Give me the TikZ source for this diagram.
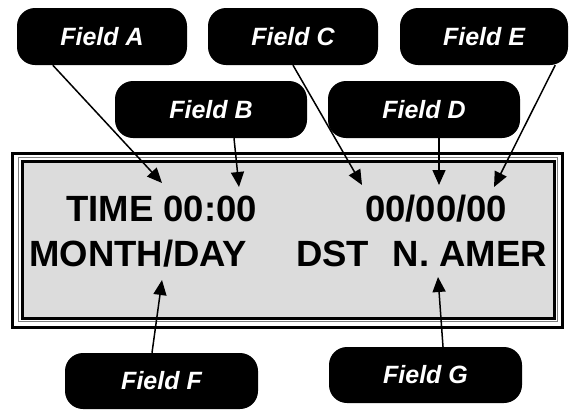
\documentclass[tikz,border=0pt]{standalone}
\usepackage{fontspec}
\usepackage{tikz}
\usetikzlibrary{arrows.meta, positioning}
\newfontfamily\arialfont{Liberation Sans}
\definecolor{lcdgray}{RGB}{220,220,220}
\tikzstyle{field}  = [rectangle, rounded corners=18pt, fill=black, text=white, inner sep=0pt,
                      minimum height=57pt, font=\arialfont\bfseries\itshape\fontsize{25}{30}\selectfont]
\tikzstyle{lcd}    = [inner sep=0pt, font=\arialfont\bfseries\fontsize{36.5}{40}\selectfont]
\tikzstyle{arrow}  = [-{Triangle[length=15pt, width=13pt]}, line width=1.5pt]

\begin{document}
\begin{tikzpicture}[x=1pt, y=-1pt]
    \useasboundingbox (0,0) rectangle (572,410);

    % display frame
    \draw[line width=3pt] (12,153) rectangle (562,327);
    \draw[gray, line width=1pt] (18.5,157.5) rectangle (557.5,321.5);
    \draw[line width=3pt, fill=lcdgray] (22,161) rectangle (554,318);

    % display texts
    \node (time)   [lcd, anchor=base west] at (66,221)  {TIME 00:00};
    \node (date)   [lcd, anchor=base west] at (365,221) {00/00/00};
    \node (month)  [lcd, anchor=base west] at (29,266)  {MONTH/DAY};
    \node (dst)    [lcd, anchor=base west] at (296,266) {DST};
    \node (region) [lcd, anchor=base east] at (547,266) {N. AMER};

    % field labels
    \node (fa) [field, minimum width=170pt] at (102,36.5)  {Field A};
    \node (fb) [field, minimum width=192pt] at (211,109.5) {Field B};
    \node (fc) [field, minimum width=170pt] at (293,36.5)  {Field C};
    \node (fd) [field, minimum width=192pt] at (424,109.5) {Field D};
    \node (fe) [field, minimum width=168pt] at (484,36.5)  {Field E};
    \node (ff) [field, minimum width=193pt, minimum height=56pt] at (161.5,381) {Field F};
    \node (fg) [field, minimum width=193pt, minimum height=56pt] at (425.5,375) {Field G};

    % arrow tips on the display
    \coordinate (tipA) at (162,183);
    \coordinate (tipB) at (239,187);
    \coordinate (tipC) at (362,185);
    \coordinate (tipD) at (439,185);
    \coordinate (tipE) at (494,187);
    \coordinate (tipF) at (162,280);
    \coordinate (tipG) at (438,277);

    \draw[arrow] ([xshift=36pt]fa.south west) -- (tipA);
    \draw[arrow] ([xshift=23pt]fb.south) -- (tipB);
    \draw[arrow] (fc.south) -- (tipC);
    \draw[arrow] ([xshift=15pt]fd.south) -- (tipD);
    \draw[arrow] ([xshift=-13pt]fe.south east) -- (tipE);
    \draw[arrow] ([xshift=-9.5pt]ff.north) -- (tipF);
    \draw[arrow] ([xshift=17.5pt]fg.north) -- (tipG);
\end{tikzpicture}
\end{document}
